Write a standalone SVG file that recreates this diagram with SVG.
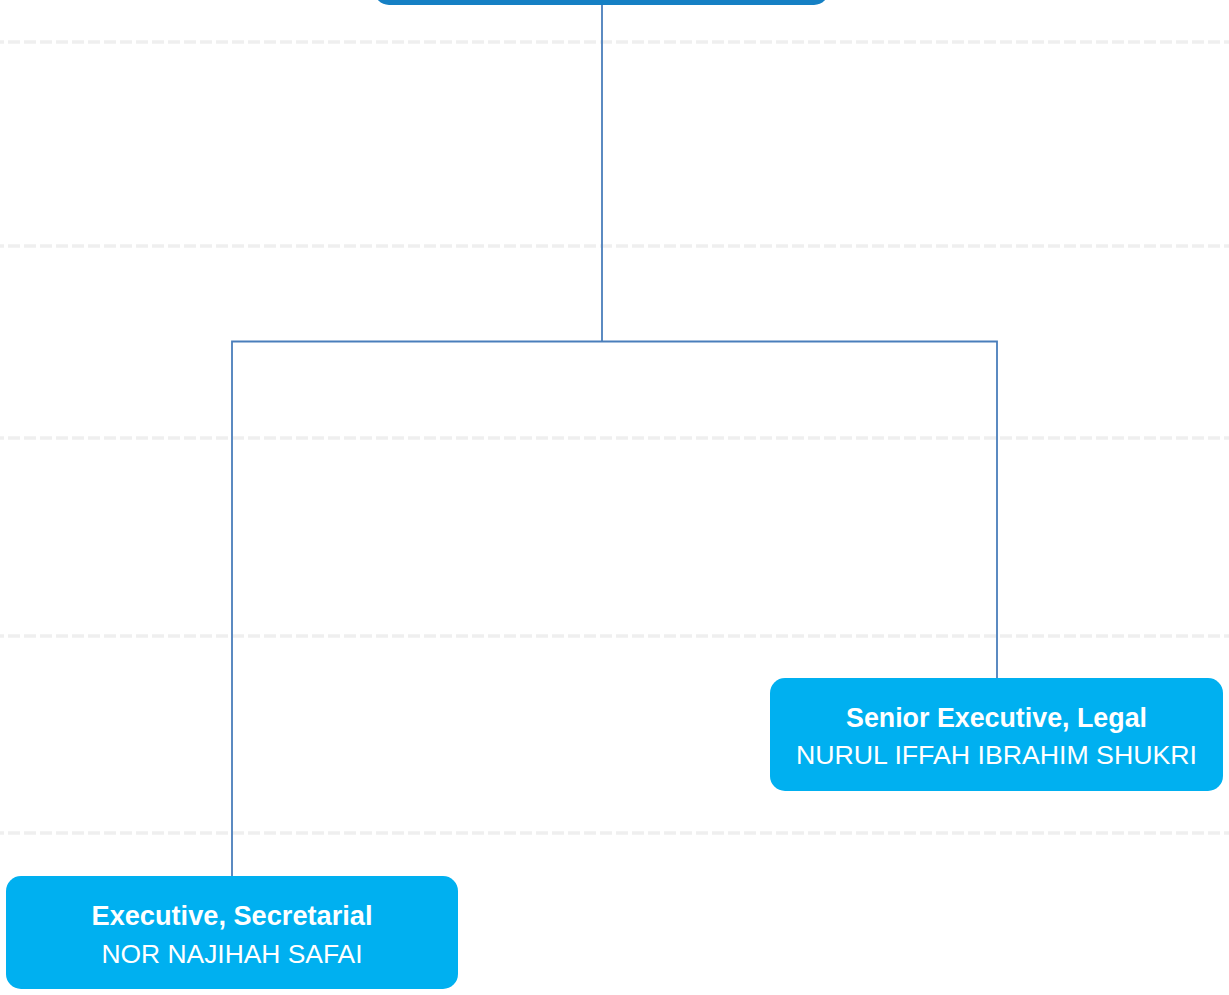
<svg xmlns="http://www.w3.org/2000/svg" width="1229" height="995" viewBox="0 0 1229 995">
<style>
.grid{stroke:#efefef;stroke-width:3.5;stroke-dasharray:12 4;stroke-dashoffset:8;fill:none}
.conn{stroke:#4a7ebb;stroke-width:1.8;fill:none}
.box{fill:#00b0f0}
.top{fill:#1580c4}
.t1{font-family:"Liberation Sans",Arial,sans-serif;font-weight:bold;font-size:27px;fill:#fff;text-anchor:middle}
.t2{font-family:"Liberation Sans",Arial,sans-serif;font-size:25.5px;fill:#fff;text-anchor:middle}
</style>
<rect width="1229" height="995" fill="#fff"/>
<g id="gridlines">
<line class="grid" x1="0" y1="42" x2="1229" y2="42"/>
<line class="grid" x1="0" y1="246" x2="1229" y2="246"/>
<line class="grid" x1="0" y1="438" x2="1229" y2="438"/>
<line class="grid" x1="0" y1="636" x2="1229" y2="636"/>
<line class="grid" x1="0" y1="833" x2="1229" y2="833"/>
</g>
<g id="connectors">
<path class="conn" d="M602 4 V341.5"/>
<path class="conn" d="M232 877 V341.5 H997 V679"/>
</g>
<g id="node-top">
<rect class="top" x="374" y="-60" width="455" height="65" rx="15"/>
</g>
<g id="node-legal">
<rect class="box" x="770" y="678" width="453" height="113" rx="15"/>
<text class="t1" x="996.5" y="727" textLength="301" lengthAdjust="spacingAndGlyphs">Senior Executive, Legal</text>
<text class="t2" x="996.5" y="764" textLength="401" lengthAdjust="spacingAndGlyphs">NURUL IFFAH IBRAHIM SHUKRI</text>
</g>
<g id="node-secretarial">
<rect class="box" x="6" y="876" width="452" height="113" rx="15"/>
<text class="t1" x="232" y="925" textLength="281" lengthAdjust="spacingAndGlyphs">Executive, Secretarial</text>
<text class="t2" x="232" y="963" textLength="261" lengthAdjust="spacingAndGlyphs">NOR NAJIHAH SAFAI</text>
</g>
</svg>
